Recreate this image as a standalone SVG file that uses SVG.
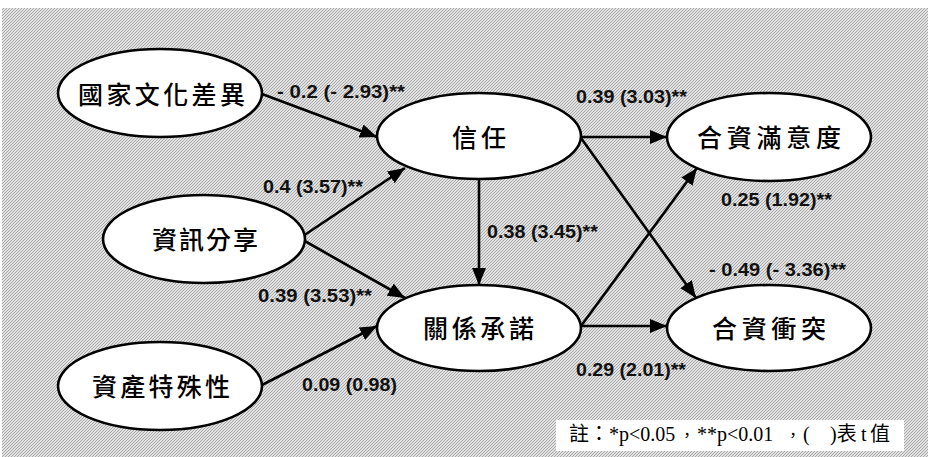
<svg xmlns="http://www.w3.org/2000/svg" width="928" height="457" viewBox="0 0 928 457">
  <style>
    .node { fill: #ffffff; stroke: #000000; stroke-width: 2.6; }
    .name { font-family: "Noto Sans CJK TC", "Noto Sans CJK SC", sans-serif; font-size: 25px; font-weight: 500; fill: #000000; }
    .edge { stroke: #000000; stroke-width: 2.6; fill: none; marker-end: url(#head); }
    .coef { font-family: "Liberation Sans", Arial, sans-serif; font-size: 19px; font-weight: bold; fill: #111111; }
    .note { font-family: "Liberation Serif", "Noto Sans CJK TC", serif; font-size: 20px; fill: #000000; }
    .sep { font-size: 16px; }
  </style>
  <defs>
    <pattern id="hatch" patternUnits="userSpaceOnUse" width="3" height="3">
      <rect width="3" height="3" fill="#e2e2e2"/>
      <path d="M-1,1 L1,-1 M0,3 L3,0 M2,4 L4,2" stroke="#a2a2a2" stroke-width="0.9"/>
    </pattern>
    <marker id="head" markerUnits="userSpaceOnUse" markerWidth="18" markerHeight="16" viewBox="0 0 18 16" refX="17" refY="8" orient="auto">
      <path d="M0,1 L17,8 L0,15 Z" fill="#000000"/>
    </marker>
  </defs>

  <!-- paper -->
  <rect x="0" y="0" width="928" height="457" fill="#ffffff"/>
  <rect x="2" y="8" width="926" height="449" fill="url(#hatch)"/>

  <!-- paths between constructs -->
  <g id="connectors">
    <line class="edge" x1="262" y1="94" x2="377" y2="137"/>
    <line class="edge" x1="303" y1="236" x2="405" y2="168"/>
    <line class="edge" x1="303" y1="240" x2="405" y2="298"/>
    <line class="edge" x1="262" y1="385" x2="377" y2="326"/>
    <line class="edge" x1="479" y1="180" x2="479" y2="285"/>
    <line class="edge" x1="581" y1="137" x2="667" y2="137"/>
    <line class="edge" x1="581" y1="138" x2="696" y2="298"/>
    <line class="edge" x1="581" y1="326" x2="697" y2="168"/>
    <line class="edge" x1="581" y1="326" x2="667" y2="326"/>
  </g>

  <g id="n-culture">
    <ellipse class="node" cx="160" cy="93" rx="102" ry="44"/>
    <text class="name" x="78" y="104" textLength="167" lengthAdjust="spacing">國家文化差異</text>
  </g>
  <g id="n-share">
    <ellipse class="node" cx="204" cy="239" rx="101" ry="44"/>
    <text class="name" x="152" y="249" textLength="106" lengthAdjust="spacing">資訊分享</text>
  </g>
  <g id="n-asset">
    <ellipse class="node" cx="160" cy="386" rx="102" ry="44"/>
    <text class="name" x="92" y="396" textLength="138" lengthAdjust="spacing">資產特殊性</text>
  </g>
  <g id="n-trust">
    <ellipse class="node" cx="479" cy="136" rx="102" ry="43"/>
    <text class="name" x="452" y="147" textLength="54" lengthAdjust="spacing">信任</text>
  </g>
  <g id="n-commit">
    <ellipse class="node" cx="479" cy="328" rx="102" ry="43"/>
    <text class="name" x="423" y="338" textLength="111" lengthAdjust="spacing">關係承諾</text>
  </g>
  <g id="n-satisfy">
    <ellipse class="node" cx="769" cy="137" rx="102" ry="44"/>
    <text class="name" x="697" y="147" textLength="144" lengthAdjust="spacing">合資滿意度</text>
  </g>
  <g id="n-conflict">
    <ellipse class="node" cx="769" cy="328" rx="102" ry="43"/>
    <text class="name" x="712" y="338" textLength="114" lengthAdjust="spacing">合資衝突</text>
  </g>

  <!-- path coefficients (t values) -->
  <g id="coefficients">
    <text class="coef" x="277" y="98" textLength="128" lengthAdjust="spacingAndGlyphs">- 0.2 (- 2.93)**</text>
    <text class="coef" x="263" y="193" textLength="100" lengthAdjust="spacingAndGlyphs">0.4 (3.57)**</text>
    <text class="coef" x="576" y="103" textLength="111" lengthAdjust="spacingAndGlyphs">0.39 (3.03)**</text>
    <text class="coef" x="721" y="206" textLength="111" lengthAdjust="spacingAndGlyphs">0.25 (1.92)**</text>
    <text class="coef" x="487" y="238" textLength="111" lengthAdjust="spacingAndGlyphs">0.38 (3.45)**</text>
    <text class="coef" x="258" y="302" textLength="114" lengthAdjust="spacingAndGlyphs">0.39 (3.53)**</text>
    <text class="coef" x="302" y="391" textLength="95" lengthAdjust="spacingAndGlyphs">0.09 (0.98)</text>
    <text class="coef" x="709" y="276" textLength="137" lengthAdjust="spacingAndGlyphs">- 0.49 (- 3.36)**</text>
    <text class="coef" x="576" y="376" textLength="110" lengthAdjust="spacingAndGlyphs">0.29 (2.01)**</text>
  </g>

  <!-- significance note -->
  <g id="note">
    <rect x="556" y="420" width="348" height="31" fill="#ffffff"/>
    <text class="note" y="441"><tspan x="569">註：</tspan><tspan x="609">*p&lt;0.05</tspan><tspan class="sep" x="679">，</tspan><tspan x="697">**p&lt;0.01</tspan><tspan class="sep" x="785">，</tspan><tspan x="803">(</tspan><tspan x="830">)表</tspan><tspan x="861">t</tspan><tspan x="870">值</tspan></text>
  </g>
</svg>
